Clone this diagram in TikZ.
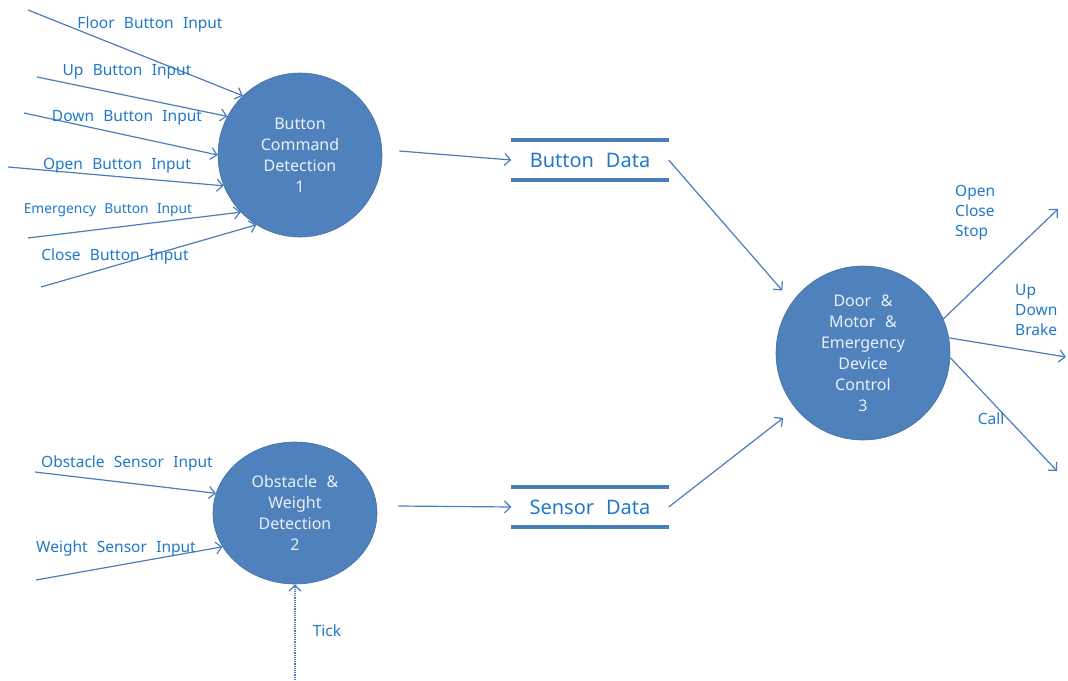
\documentclass[tikz,border=0pt]{standalone}
\usepackage{fontspec}
\setmainfont{Noto Sans}[WordSpace=2.3]
\usetikzlibrary{arrows.meta,shapes.geometric}
\definecolor{procfill}{RGB}{79,129,189}
\definecolor{flowline}{RGB}{74,126,187}
\definecolor{labelblue}{RGB}{32,120,200}
\definecolor{proctext}{RGB}{235,240,248}
\begin{document}
\begin{tikzpicture}[x=1pt,y=-1pt,
  proc/.style={fill=procfill,draw=procfill!85!black,line width=0.6pt,inner sep=0pt,align=center,text=proctext,font=\fontsize{16}{21}\selectfont},
  flow/.style={draw=flowline,line width=1.2pt,-{Straight Barb[length=6pt,width=12pt]}},
  lbl/.style={text=labelblue,font=\fontsize{15.5}{20}\selectfont,inner sep=0pt},
  store/.style={minimum width=157pt,minimum height=40pt,inner sep=0pt,text=labelblue,font=\fontsize{20}{24}\selectfont},
  storeline/.style={draw=flowline,line width=4pt}]
\useasboundingbox (0,0) rectangle (1068,680);

% processes
\node[proc,circle,minimum size=164pt] (c1) at (300,155) {Button\\Command\\Detection\\1};
\node[proc,ellipse,minimum width=164pt,minimum height=142pt] (c2) at (295,513) {Obstacle \& \\Weight\\Detection\\2};
\node[proc,circle,minimum size=174pt] (c3) at (863,353) {Door \&\\Motor \&\\Emergency\\Device\\Control\\3};

% data stores
\node[store] (bd) at (590,160) {Button Data};
\draw[storeline] (bd.north west) -- (bd.north east);
\draw[storeline] (bd.south west) -- (bd.south east);
\node[store] (sd) at (590,507) {Sensor Data};
\draw[storeline] (sd.north west) -- (sd.north east);
\draw[storeline] (sd.south west) -- (sd.south east);

% free ends
\coordinate (fin) at (28,10);
\coordinate (uin) at (37,77);
\coordinate (din) at (24,113);
\coordinate (oin) at (8,167);
\coordinate (ein) at (28,238);
\coordinate (cin) at (41,287);
\coordinate (obin) at (35,472);
\coordinate (win) at (36,580);
\coordinate (tin) at (295,680);
\coordinate (o1) at (1058,209);
\coordinate (o2) at (1066,357);
\coordinate (o3) at (1057,471);

% inputs
\draw[flow] (fin) -- (c1.134);
\draw[flow] (uin) -- (c1.152);
\draw[flow] (din) -- (c1.180);
\draw[flow] (oin) -- (c1.202);
\draw[flow] (ein) -- (c1.224);
\draw[flow] (cin) -- (c1.238);
\draw[flow] (obin) -- (c2.166);
\draw[flow] (win) -- (c2.205);
\draw[flow,densely dotted] (tin) -- (c2.south);

% internal flows
\draw[flow] ([xshift=17pt,yshift=4pt]c1.east) -- (bd.west);
\draw[flow] (bd.east) -- ([shift={(-11pt,10pt)}]c3.143);
\draw[flow] ([xshift=21pt,yshift=7pt]c2.east) -- (sd.west);
\draw[flow] (sd.east) -- ([shift={(-12pt,-10pt)}]c3.219);

% outputs
\draw[flow] (c3.23) -- (o1);
\draw[flow] (c3.10) -- (o2);
\draw[flow] (c3.-3) -- (o3);

% labels
\node[lbl] (lf) at (150,24) {Floor Button Input};
\node[lbl] (lu) at (127,72) {Up Button Input};
\node[lbl] (ld) at (127,118) {Down Button Input};
\node[lbl] (lo) at (117,166) {Open Button Input};
\node[lbl,font=\fontsize{13.8}{16}\selectfont] (le) at (108,210) {Emergency Button Input};
\node[lbl] (lc) at (115,256) {Close Button Input};
\node[lbl] (lob) at (127,463) {Obstacle Sensor Input};
\node[lbl] (lw) at (116,548) {Weight Sensor Input};
\node[lbl] (lt) at (327,631) {Tick};
\node[lbl,anchor=west,align=left] (locs) at (955,213) {Open\\Close\\Stop};
\node[lbl,anchor=west,align=left] (ludb) at (1015,310) {Up\\Down\\Brake};
\node[lbl] (lcall) at (991,419) {Call};
\end{tikzpicture}
\end{document}
